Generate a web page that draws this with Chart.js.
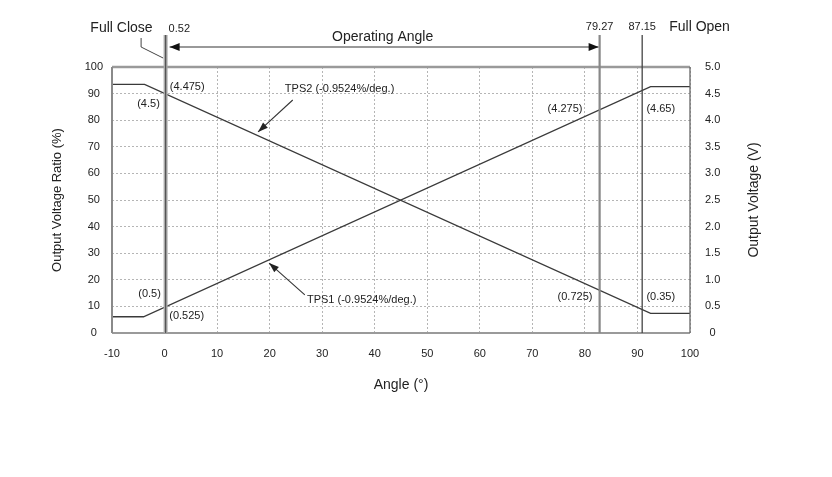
<!DOCTYPE html>
<html>
<head>
<meta charset="utf-8">
<title>TPS Output Characteristic</title>
<script src="https://cdn.jsdelivr.net/npm/chart.js@4.4.0/dist/chart.umd.min.js"></script>
<style>
    body { margin: 0; background: #fff; }
    #wrap { width: 832px; height: 477px; }
</style>
</head>
<body>
<div id="wrap"><canvas id="tps-chart" width="832" height="477"></canvas></div>
<script>
// Values
const tps1Angle = [-10, -4, 92.5, 100];
const tps1Ratio = [6.1, 6.1, 92.6, 92.6];
const tps2Angle = [-10, -3.8, 92.5, 100];
const tps2Ratio = [93.5, 93.5, 7.4, 7.4];

const markerAngle = [0.2, 82.8, 90.9];
const markerLabel = ['0.52', '79.27', '87.15'];

const voltNotes = ['(4.475)', '(4.5)', '(4.275)', '(4.65)', '(0.5)', '(0.525)', '(0.725)', '(0.35)'];
const slopeNotes = ['TPS2 (-0.9524%/deg.)', 'TPS1 (-0.9524%/deg.)'];

// Where the notes sit (angle, ratio, text align)
const voltNotePos = [
    [1.0, 92.5, 'left'],
    [-0.9, 86.1, 'right'],
    [72.9, 84.2, 'left'],
    [91.7, 84.2, 'left'],
    [-5.0, 14.7, 'left'],
    [0.9, 6.4, 'left'],
    [74.8, 13.5, 'left'],
    [91.7, 13.5, 'left']
];
const slopeNotePos = [[22.9, 91.7], [27.1, 12.4]];
// pointer arrows: from (angle, ratio) to (angle, ratio)
const slopeArrows = [[24.4, 87.6, 17.8, 75.6], [26.7, 14.3, 19.9, 26.3]];

const FONT = '"Liberation Sans", Arial, sans-serif';
const INK = '#222';

function toPoints(xs, ys) {
    return xs.map((x, i) => ({ x, y: ys[i] }));
}

function arrowHead(ctx, x1, y1, x2, y2, len, half) {
    const a = Math.atan2(y2 - y1, x2 - x1);
    const c = Math.cos(a), s = Math.sin(a);
    ctx.beginPath();
    ctx.moveTo(x2, y2);
    ctx.lineTo(x2 - len * c + half * s, y2 - len * s - half * c);
    ctx.lineTo(x2 - len * c - half * s, y2 - len * s + half * c);
    ctx.closePath();
    ctx.fill();
}

function line(ctx, x1, y1, x2, y2, color, width) {
    ctx.strokeStyle = color;
    ctx.lineWidth = width;
    ctx.beginPath();
    ctx.moveTo(x1, y1);
    ctx.lineTo(x2, y2);
    ctx.stroke();
}

const decorPlugin = {
    id: 'decor',
    afterDatasetsDraw(chart) {
        const ctx = chart.ctx;
        const xs = chart.scales.x;
        const ys = chart.scales.y;
        const { left, right, top, bottom } = chart.chartArea;
        ctx.save();
        ctx.setLineDash([]);

        // frame
        line(ctx, left, top, right, top, '#9a9a9a', 2.5);
        line(ctx, left, bottom, right, bottom, '#9a9a9a', 2);
        line(ctx, left, top, left, bottom, '#8a8a8a', 2);
        line(ctx, right, top, right, bottom, '#666', 1.3);

        // marker verticals
        const mx = markerAngle.map(a => xs.getPixelForValue(a));
        const mTop = top - 32;
        line(ctx, mx[0], mTop, mx[0], bottom, '#aaa', 4);
        line(ctx, mx[0], mTop, mx[0], bottom, '#555', 1.2);
        line(ctx, mx[1], mTop, mx[1], bottom, '#888', 2.2);
        line(ctx, mx[2], mTop, mx[2], bottom, '#444', 1.3);

        // marker labels
        ctx.fillStyle = INK;
        ctx.textBaseline = 'middle';
        ctx.font = '11px ' + FONT;
        ctx.textAlign = 'left';
        ctx.fillText(markerLabel[0], mx[0] + 3, top - 38);
        ctx.textAlign = 'center';
        ctx.fillText(markerLabel[1], mx[1], top - 40);
        ctx.fillText(markerLabel[2], mx[2], top - 40);

        ctx.font = '14px ' + FONT;
        ctx.textAlign = 'right';
        ctx.fillText('Full Close', mx[0] - 13, top - 39);
        ctx.textAlign = 'left';
        ctx.fillText('Full Open', mx[2] + 27, top - 40);

        // Full Close leader
        ctx.strokeStyle = '#444';
        ctx.lineWidth = 1;
        ctx.beginPath();
        ctx.moveTo(mx[0] - 24.5, top - 29);
        ctx.lineTo(mx[0] - 24.5, top - 20);
        ctx.lineTo(mx[0] - 2.5, top - 9);
        ctx.stroke();

        // Operating Angle arrow
        const ay = top - 20;
        line(ctx, mx[0] + 4, ay, mx[1] - 1, ay, '#999', 2);
        ctx.fillStyle = '#111';
        arrowHead(ctx, mx[1] - 20, ay, mx[0] + 4, ay, 10, 4);
        arrowHead(ctx, mx[0] + 20, ay, mx[1] - 1, ay, 10, 4);
        ctx.fillStyle = INK;
        ctx.font = '14px ' + FONT;
        ctx.textAlign = 'center';
        ctx.fillText('Operating Angle', (mx[0] + mx[1]) / 2, top - 30);

        // right axis title, read bottom to top like the left one
        ctx.save();
        ctx.translate(754, (top + bottom) / 2);
        ctx.rotate(-Math.PI / 2);
        ctx.fillText('Output Voltage (V)', 0, 0);
        ctx.restore();

        // voltage notes
        ctx.font = '11px ' + FONT;
        voltNotes.forEach((t, i) => {
            const p = voltNotePos[i];
            ctx.textAlign = p[2];
            ctx.fillText(t, xs.getPixelForValue(p[0]), ys.getPixelForValue(p[1]));
        });

        // slope notes with pointer arrows
        ctx.textAlign = 'left';
        slopeNotes.forEach((t, i) => {
            const p = slopeNotePos[i];
            ctx.fillStyle = INK;
            ctx.fillText(t, xs.getPixelForValue(p[0]), ys.getPixelForValue(p[1]));
            const a = slopeArrows[i];
            const x1 = xs.getPixelForValue(a[0]), y1 = ys.getPixelForValue(a[1]);
            const x2 = xs.getPixelForValue(a[2]), y2 = ys.getPixelForValue(a[3]);
            line(ctx, x1, y1, x2, y2, '#333', 1.1);
            ctx.fillStyle = '#222';
            arrowHead(ctx, x1, y1, x2, y2, 10, 3.5);
        });

        ctx.restore();
    }
};

const tickFont = { family: FONT, size: 11 };

new Chart(document.getElementById('tps-chart'), {
    type: 'line',
    data: {
        datasets: [
            {
                label: 'TPS1',
                data: toPoints(tps1Angle, tps1Ratio),
                borderColor: '#3a3a3a',
                borderWidth: 1.3,
                pointRadius: 0,
                tension: 0
            },
            {
                label: 'TPS2',
                data: toPoints(tps2Angle, tps2Ratio),
                borderColor: '#3a3a3a',
                borderWidth: 1.3,
                pointRadius: 0,
                tension: 0
            }
        ]
    },
    options: {
        responsive: false,
        animation: false,
        events: [],
        layout: { padding: { top: 67 } },
        plugins: {
            legend: { display: false },
            tooltip: { enabled: false }
        },
        scales: {
            x: {
                type: 'linear',
                min: -10,
                max: 100,
                ticks: { stepSize: 10, padding: 14, color: INK, font: tickFont },
                grid: { color: '#b5b5b5', drawTicks: false },
                border: { display: false, dash: [2, 2] },
                title: {
                    display: true,
                    text: 'Angle (°)',
                    color: INK,
                    font: { family: FONT, size: 14 },
                    padding: { top: 0, bottom: 83 }
                },
                afterFit: (scale) => { scale.height = 144; }
            },
            y: {
                position: 'left',
                min: 0,
                max: 100,
                ticks: { stepSize: 10, padding: 9, crossAlign: 'center', color: INK, font: tickFont },
                grid: { color: '#b5b5b5', drawTicks: false },
                border: { display: false, dash: [2, 2] },
                title: {
                    display: true,
                    text: 'Output Voltage Ratio (%)',
                    color: INK,
                    font: { family: FONT, size: 13 },
                    padding: { top: 50, bottom: 0 }
                },
                afterFit: (scale) => { scale.width = 112; }
            },
            y2: {
                position: 'right',
                min: 0,
                max: 5,
                ticks: {
                    stepSize: 0.5,
                    padding: 15,
                    crossAlign: 'center',
                    color: INK,
                    font: tickFont,
                    callback: (v) => (v === 0 ? '0' : v.toFixed(1))
                },
                grid: { drawOnChartArea: false, drawTicks: false },
                border: { display: false },
                title: { display: false },
                afterFit: (scale) => { scale.width = 142; }
            }
        }
    },
    plugins: [decorPlugin]
});
</script>
</body>
</html>
